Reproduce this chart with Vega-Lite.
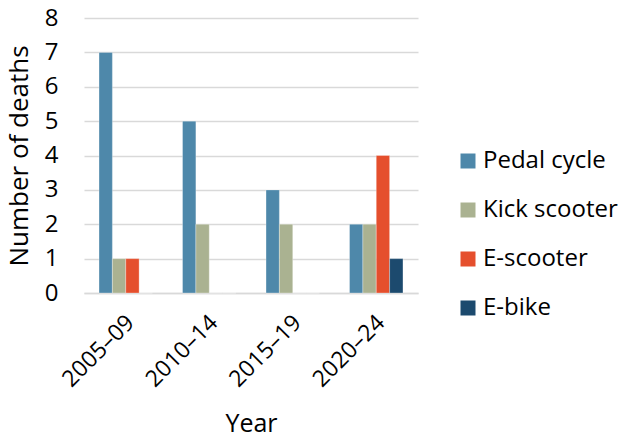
{
  "$schema": "https://vega.github.io/schema/vega-lite/v6.json",
  "autosize": "none",
  "width": 334,
  "height": 275,
  "padding": {"left": 84, "top": 18, "right": 200, "bottom": 148},
  "background": "white",
  "config": {
    "font": "Open Sans",
    "view": {"stroke": null}
  },
  "data": {
    "values": [
      {"period": "2005–09", "type": "Pedal cycle", "deaths": 7},
      {"period": "2005–09", "type": "Kick scooter", "deaths": 1},
      {"period": "2005–09", "type": "E-scooter", "deaths": 1},
      {"period": "2005–09", "type": "E-bike", "deaths": 0},
      {"period": "2010–14", "type": "Pedal cycle", "deaths": 5},
      {"period": "2010–14", "type": "Kick scooter", "deaths": 2},
      {"period": "2010–14", "type": "E-scooter", "deaths": 0},
      {"period": "2010–14", "type": "E-bike", "deaths": 0},
      {"period": "2015–19", "type": "Pedal cycle", "deaths": 3},
      {"period": "2015–19", "type": "Kick scooter", "deaths": 2},
      {"period": "2015–19", "type": "E-scooter", "deaths": 0},
      {"period": "2015–19", "type": "E-bike", "deaths": 0},
      {"period": "2020–24", "type": "Pedal cycle", "deaths": 2},
      {"period": "2020–24", "type": "Kick scooter", "deaths": 2},
      {"period": "2020–24", "type": "E-scooter", "deaths": 4},
      {"period": "2020–24", "type": "E-bike", "deaths": 1}
    ]
  },
  "mark": {"type": "bar", "stroke": "white", "strokeWidth": 0.5, "strokeOpacity": 0.6},
  "encoding": {
    "x": {
      "field": "period",
      "type": "nominal",
      "sort": null,
      "scale": {"paddingInner": 0.36, "paddingOuter": 0.18},
      "axis": {
        "title": "Year",
        "titleFontSize": 25,
        "titleFontWeight": "normal",
        "titleColor": "#000",
        "titlePadding": 20,
        "labelAngle": -45,
        "labelFontSize": 23,
        "labelColor": "#000",
        "labelPadding": 18,
        "labelOffset": -3,
        "ticks": false,
        "domain": true,
        "domainColor": "#d9d9d9",
        "domainWidth": 1.5
      }
    },
    "xOffset": {
      "field": "type",
      "type": "nominal",
      "sort": ["Pedal cycle", "Kick scooter", "E-scooter", "E-bike"]
    },
    "y": {
      "field": "deaths",
      "type": "quantitative",
      "scale": {"domain": [0, 8], "nice": false},
      "axis": {
        "title": "Number of deaths",
        "titleFontSize": 26,
        "titleFontWeight": "normal",
        "titleColor": "#000",
        "titlePadding": 12,
        "values": [0, 1, 2, 3, 4, 5, 6, 7, 8],
        "labelFontSize": 24,
        "labelColor": "#000",
        "labelPadding": 26,
        "ticks": false,
        "domain": false,
        "grid": true,
        "gridColor": "#d9d9d9",
        "gridWidth": 1.5
      }
    },
    "color": {
      "field": "type",
      "type": "nominal",
      "sort": ["Pedal cycle", "Kick scooter", "E-scooter", "E-bike"],
      "scale": {
        "domain": ["Pedal cycle", "Kick scooter", "E-scooter", "E-bike"],
        "range": ["#4E88AA", "#AAB291", "#E54F2D", "#1C4A6E"]
      },
      "legend": {
        "title": null,
        "orient": "none",
        "legendX": 372,
        "legendY": 131,
        "symbolType": "square",
        "symbolSize": 225,
        "symbolStrokeWidth": 0,
        "labelFontSize": 24,
        "labelColor": "#000",
        "labelOffset": 3,
        "rowPadding": 25
      }
    }
  }
}
